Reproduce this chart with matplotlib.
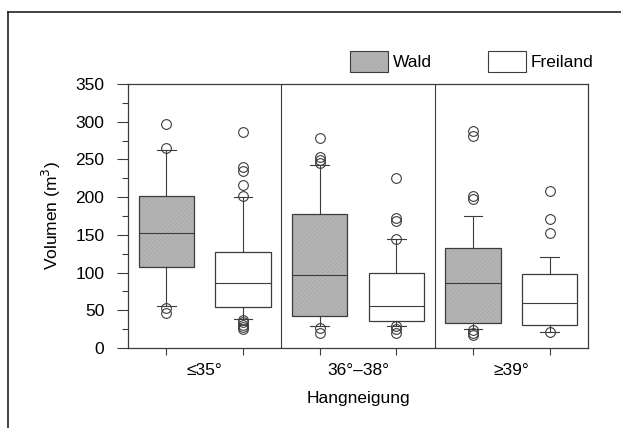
import matplotlib.pyplot as plt
from matplotlib.patches import Patch
from matplotlib.lines import Line2D

plt.rcParams['font.family'] = ['Liberation Sans', 'DejaVu Sans']
plt.rcParams['hatch.linewidth'] = 0.3

# data (m^3)
groups = ['\u226435°', '36°\u201338°', '\u226539°']
series = ['Wald', 'Freiland']

wald_q1 = [107, 43, 33]
wald_med = [153, 97, 86]
wald_q3 = [202, 178, 133]
wald_lo = [56, 29, 25]
wald_hi = [263, 243, 175]
wald_fliers = [
    [297, 265, 53, 47],
    [279, 253, 249, 245, 26, 20],
    [288, 281, 201, 198, 24, 20, 17],
]

frei_q1 = [54, 36, 31]
frei_med = [86, 56, 60]
frei_q3 = [127, 100, 98]
frei_lo = [39, 29, 21]
frei_hi = [200, 145, 121]
frei_fliers = [
    [286, 240, 235, 216, 201, 37, 34, 31, 28, 25],
    [225, 172, 168, 145, 29, 25, 20],
    [208, 171, 152, 21],
]

offset = 0.25
box_w = 0.36
edge = '#3c3c3c'
grey = '#b4b4b4'
hatch_col = (0.62, 0.62, 0.62, 1.0)


def make_stats(q1, med, q3, lo, hi, fl):
    out = []
    for i in range(len(q1)):
        out.append(dict(q1=q1[i], med=med[i], q3=q3[i], whislo=lo[i], whishi=hi[i], fliers=fl[i]))
    return out


fig = plt.figure(figsize=(6.21, 4.28), dpi=100)
ax = fig.add_axes([128 / 621, 1 - 348 / 428, 460 / 621, 264 / 428])

centers = [1, 2, 3]
line_kw = dict(color=edge, linewidth=0.8)
flier_kw = dict(marker='o', markersize=7, markerfacecolor='none', markeredgecolor=edge, markeredgewidth=0.8)

for stats, pos, face, hatch in [
    (make_stats(wald_q1, wald_med, wald_q3, wald_lo, wald_hi, wald_fliers), [c - offset for c in centers], grey, '////////'),
    (make_stats(frei_q1, frei_med, frei_q3, frei_lo, frei_hi, frei_fliers), [c + offset for c in centers], 'white', None),
]:
    bp = ax.bxp(stats, positions=pos, widths=box_w, patch_artist=True, capwidths=0.12,
                boxprops=dict(facecolor=face, edgecolor=edge, linewidth=0.9),
                medianprops=line_kw, whiskerprops=line_kw, capprops=line_kw, flierprops=flier_kw,
                manage_ticks=False)
    for b in bp['boxes']:
        if hatch:
            b.set_hatch(hatch)
            b._hatch_color = hatch_col

for x in [1.5, 2.5]:
    ax.axvline(x, color=edge, linewidth=0.8)

ax.set_xlim(0.5, 3.5)
ax.set_ylim(0, 350)
ax.set_yticks(range(0, 351, 50))
ax.set_yticks(range(0, 351, 25), minor=True)
ax.set_xticks(centers)
ax.set_xticklabels(groups)
ax.set_xticks([c - offset for c in centers] + [c + offset for c in centers], minor=True)
ax.tick_params(axis='x', which='major', length=0, pad=11, labelsize=12.5)
ax.tick_params(axis='x', which='minor', length=5, width=0.8, color=edge)
ax.tick_params(axis='y', which='major', length=8, width=0.8, pad=9, labelsize=12.5, color=edge)
ax.tick_params(axis='y', which='minor', length=4, width=0.8, color=edge)
for s in ax.spines.values():
    s.set_color(edge)
    s.set_linewidth(0.9)

ax.set_ylabel('Volumen (m$^3$)', fontsize=12.5, labelpad=9)
ax.set_xlabel('Hangneigung', fontsize=12.5, labelpad=9)

handles = [Patch(facecolor=grey, edgecolor=edge, hatch='////////', linewidth=0.8),
           Patch(facecolor='white', edgecolor=edge, linewidth=0.8)]
handles[0]._hatch_color = hatch_col
ax.legend(handles, series, ncol=2, frameon=False, fontsize=12.5,
          handlelength=2.2, handleheight=1.5, handletextpad=0.3, columnspacing=3.2,
          loc='lower left', bbox_to_anchor=((349 - 128) / 460 - 0.025, 1.0), borderaxespad=0.3)

# outer frame of the scanned figure
fig.add_artist(Line2D([8 / 621, 8 / 621], [0, 1 - 12 / 428], color='#222222', linewidth=1.2))
fig.add_artist(Line2D([8 / 621, 1], [1 - 12 / 428, 1 - 12 / 428], color='#222222', linewidth=1.2))

fig.savefig('out.png', dpi=100)
